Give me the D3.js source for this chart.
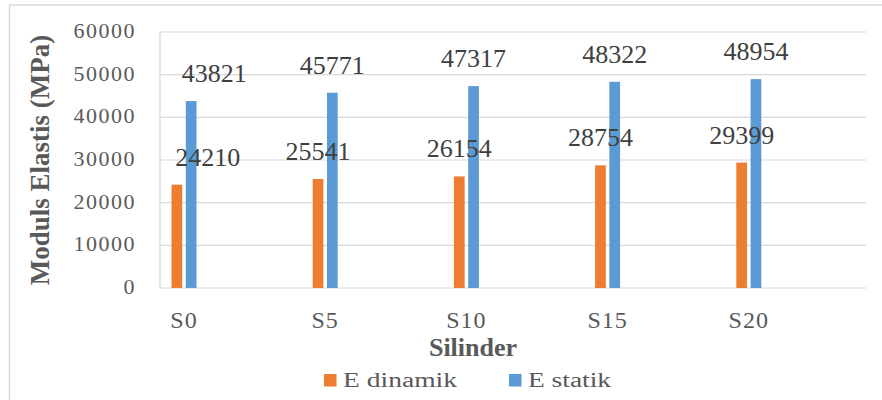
<!DOCTYPE html>
<html>
<head>
<meta charset="utf-8">
<script src="https://cdn.jsdelivr.net/npm/d3@7"></script>
<style>
    body { margin: 0; background: #fff; }
    svg text { font-family: "Liberation Serif", "Times New Roman", Tinos, "DejaVu Serif", serif; }
</style>
</head>
<body>
<div id="chart"></div>
<script>
var categories = ["S0", "S5", "S10", "S15", "S20"];
var seriesNames = ["E dinamik", "E statik"];
var eDinamik = [24210, 25541, 26154, 28754, 29399];
var eStatik = [43821, 45771, 47317, 48322, 48954];
var yTicks = [0, 10000, 20000, 30000, 40000, 50000, 60000];
var colors = ["#ED7D31", "#5B9BD5"];

var width = 882, height = 400;
var plot = {left: 160, right: 866, top: 32, bottom: 288};
var serif = '"Liberation Serif", "Times New Roman", Tinos, "DejaVu Serif", serif';

var svg = d3.select('#chart')
    .append('svg')
    .attr('width', width)
    .attr('height', height)
    .attr('font-family', serif);

// chart border (runs off the right/bottom edge like the picture)
svg.append('rect')
    .attr('x', 9.5).attr('y', 5)
    .attr('width', 900).attr('height', 500)
    .attr('fill', '#fff')
    .attr('stroke', '#d9d9d9')
    .attr('stroke-width', 1.5);

var y = d3.scaleLinear().domain([0, 60000]).range([plot.bottom, plot.top]);
var x0 = d3.scaleBand().domain(categories).range([plot.left, plot.right]);
var x1 = d3.scaleBand().domain(seriesNames).range([11.5, 36.5]).paddingInner(0.25);

// gridlines
svg.append('g')
    .selectAll('line')
    .data(yTicks)
    .enter().append('line')
    .attr('x1', plot.left).attr('x2', plot.right)
    .attr('y1', d => y(d)).attr('y2', d => y(d))
    .attr('stroke', '#d9d9d9')
    .attr('stroke-width', 1.2);

// left axis line
svg.append('line')
    .attr('x1', plot.left).attr('x2', plot.left)
    .attr('y1', y(60000)).attr('y2', y(0))
    .attr('stroke', '#d9d9d9')
    .attr('stroke-width', 1.2);

// y tick labels
svg.append('g')
    .selectAll('text')
    .data(yTicks)
    .enter().append('text')
    .attr('x', 136)
    .attr('y', d => y(d) + 6)
    .attr('text-anchor', 'end')
    .attr('font-size', 22)
    .attr('letter-spacing', 1.5)
    .attr('fill', '#595959')
    .text(d => d);

var series = [eDinamik, eStatik];
var rows = [];
categories.forEach(function(c, i) {
    series.forEach(function(s, j) {
        rows.push({cat: c, ci: i, name: seriesNames[j], si: j, value: s[i]});
    });
});

// bars
svg.append('g')
    .selectAll('rect')
    .data(rows)
    .enter().append('rect')
    .attr('x', d => x0(d.cat) + x1(d.name))
    .attr('y', d => y(d.value))
    .attr('width', x1.bandwidth())
    .attr('height', d => y(0) - y(d.value))
    .attr('fill', d => colors[d.si]);

// data labels (first group was nudged right in the original)
var firstShift = [31, 23];
svg.append('g')
    .selectAll('text')
    .data(rows)
    .enter().append('text')
    .attr('x', d => x0(d.cat) + x1(d.name) + x1.bandwidth() / 2 + (d.ci === 0 ? firstShift[d.si] : 0))
    .attr('y', d => y(d.value) - 19)
    .attr('text-anchor', 'middle')
    .attr('font-size', 26)
    .attr('fill', '#404040')
    .text(d => d.value);

// category labels
svg.append('g')
    .selectAll('text')
    .data(categories)
    .enter().append('text')
    .attr('x', d => x0(d) + 24)
    .attr('y', 328)
    .attr('text-anchor', 'middle')
    .attr('font-size', 24)
    .attr('letter-spacing', 1)
    .attr('fill', '#595959')
    .text(d => d);

// axis titles
svg.append('text')
    .attr('transform', 'translate(49,160) rotate(-90)')
    .attr('text-anchor', 'middle')
    .attr('font-size', 27)
    .attr('font-weight', 'bold')
    .attr('fill', '#595959')
    .text('Moduls Elastis (MPa)');

svg.append('text')
    .attr('x', 473)
    .attr('y', 356)
    .attr('text-anchor', 'middle')
    .attr('font-size', 26)
    .attr('font-weight', 'bold')
    .attr('fill', '#595959')
    .text('Silinder');

// legend
var legendX = [324, 509];
var legendW = [114, 83];
var legend = svg.append('g')
    .selectAll('g')
    .data(seriesNames)
    .enter().append('g')
    .attr('transform', (d, i) => 'translate(' + legendX[i] + ',374)');

legend.append('rect')
    .attr('width', 12.5).attr('height', 12.5)
    .attr('fill', (d, i) => colors[i]);

legend.append('text')
    .attr('x', 19)
    .attr('y', 13)
    .attr('font-size', 20)
    .attr('textLength', (d, i) => legendW[i])
    .attr('lengthAdjust', 'spacingAndGlyphs')
    .attr('fill', '#595959')
    .text(d => d);
</script>
</body>
</html>
